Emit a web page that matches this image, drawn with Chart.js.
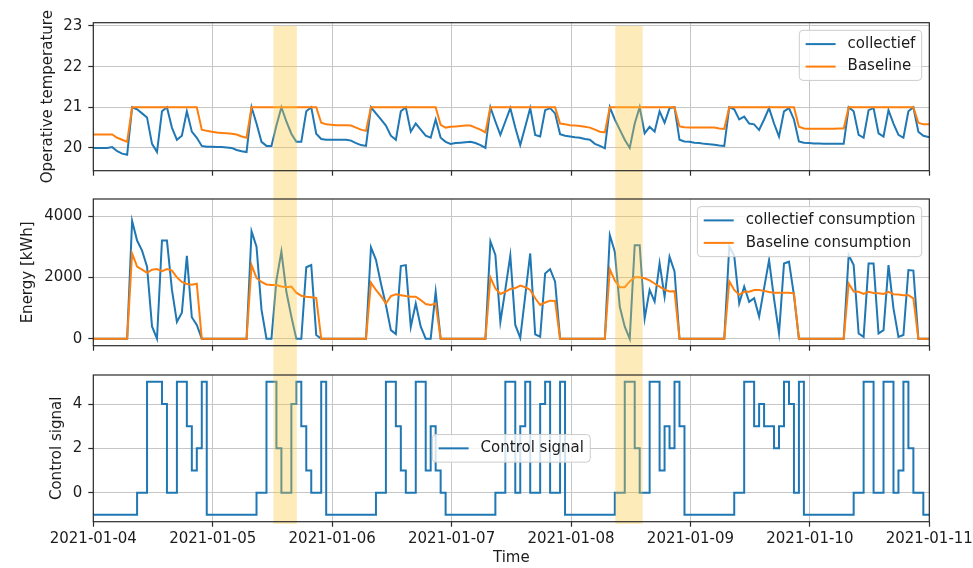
<!DOCTYPE html>
<html>
<head>
<meta charset="utf-8">
<title>Collectief vs baseline</title>
<script src="https://cdn.jsdelivr.net/npm/chart.js@4.4.1/dist/chart.umd.min.js"></script>
<style>
  html, body { margin: 0; padding: 0; background: #ffffff; }
  #figure { position: relative; width: 973px; height: 568px; overflow: hidden; }
  #figure canvas { position: absolute; left: 0; }
</style>
</head>
<body>
<div id="figure">
  <canvas id="tempChart" width="973" height="190" style="top:0px"></canvas>
  <canvas id="energyChart" width="973" height="175" style="top:190px"></canvas>
  <canvas id="signalChart" width="973" height="203" style="top:365px"></canvas>
</div>
<script>
// Hourly readings, stamped at hh:48. Index 0 is 2021-01-03 23:48,
// the last index is 2021-01-11 00:48. Hours count from 2021-01-04 00:00.
const firstSampleHour = -0.2;

// Operative temperature [°C]
const collectiefTemp = [20.0,
  20.0, 20.0, 20.0, 20.02, 19.92, 19.86, 19.83, 21.0, 20.95, 20.85, 20.75, 20.1, 19.9, 20.9, 21.0, 20.5, 20.2, 20.3, 20.9, 20.4, 20.25, 20.05, 20.03, 20.03,
  20.02, 20.02, 20.01, 20.0, 19.95, 19.92, 19.9, 21.0, 20.6, 20.15, 20.05, 20.05, 20.55, 21.0, 20.65, 20.35, 20.15, 20.15, 20.9, 21.0, 20.35, 20.22, 20.2, 20.2,
  20.2, 20.2, 20.2, 20.18, 20.12, 20.07, 20.05, 21.0, 20.85, 20.7, 20.55, 20.3, 20.2, 20.9, 21.0, 20.4, 20.6, 20.45, 20.3, 20.25, 20.7, 20.25, 20.15, 20.1,
  20.12, 20.13, 20.14, 20.15, 20.12, 20.07, 20.0, 21.0, 20.65, 20.32, 20.65, 20.98, 20.5, 20.07, 20.52, 20.98, 20.32, 20.28, 20.93, 20.98, 20.85, 20.34, 20.3, 20.28,
  20.26, 20.25, 20.22, 20.2, 20.1, 20.05, 19.99, 21.0, 20.7, 20.45, 20.2, 20.0, 20.6, 21.0, 20.36, 20.52, 20.4, 20.9, 20.62, 20.98, 21.0, 20.2, 20.16, 20.15,
  20.13, 20.12, 20.1, 20.09, 20.08, 20.06, 20.05, 21.0, 20.95, 20.7, 20.77, 20.6, 20.58, 20.44, 20.7, 20.98, 20.6, 20.28, 20.9, 20.98, 20.7, 20.16, 20.13, 20.12,
  20.11, 20.11, 20.1, 20.1, 20.1, 20.1, 20.1, 21.0, 20.9, 20.32, 20.25, 20.93, 20.98, 20.36, 20.28, 20.93, 20.6, 20.32, 20.25, 20.9, 21.0, 20.4, 20.3, 20.27, 20.26];

const baselineTemp = [20.33,
  20.33, 20.33, 20.33, 20.33, 20.25, 20.2, 20.15, 21, 21, 21, 21, 21, 21, 21, 21, 21, 21, 21, 21, 21, 21, 20.45, 20.42, 20.4,
  20.38, 20.37, 20.36, 20.35, 20.33, 20.28, 20.25, 21, 21, 21, 21, 21, 21, 21, 21, 21, 21, 21, 21, 21, 21, 20.62, 20.58, 20.57,
  20.56, 20.56, 20.56, 20.55, 20.5, 20.45, 20.42, 21, 21, 21, 21, 21, 21, 21, 21, 21, 21, 21, 21, 21, 21, 20.57, 20.5, 20.52,
  20.53, 20.54, 20.55, 20.55, 20.5, 20.45, 20.38, 21, 21, 21, 21, 21, 21, 21, 21, 21, 21, 21, 21, 21, 21, 20.6, 20.58, 20.56,
  20.55, 20.54, 20.52, 20.5, 20.45, 20.4, 20.38, 21, 21, 21, 21, 21, 21, 21, 21, 21, 21, 21, 21, 21, 21, 20.53, 20.51, 20.5,
  20.5, 20.5, 20.5, 20.5, 20.5, 20.48, 20.47, 21, 21, 21, 21, 21, 21, 21, 21, 21, 21, 21, 21, 21, 21, 20.52, 20.48, 20.47,
  20.47, 20.47, 20.47, 20.47, 20.47, 20.48, 20.48, 21, 21, 21, 21, 21, 21, 21, 21, 21, 21, 21, 21, 21, 21, 20.62, 20.58, 20.58, 20.57];

// Energy [kWh]
const collectiefEnergy = [0,
  0, 0, 0, 0, 0, 0, 0, 3840, 3200, 2870, 2350, 400, 0, 3200, 3200, 1600, 550, 850, 2700, 700, 450, 0, 0, 0,
  0, 0, 0, 0, 0, 0, 0, 3500, 3000, 950, 0, 0, 1900, 2840, 1530, 720, 0, 0, 2330, 2400, 120, 0, 0, 0,
  0, 0, 0, 0, 0, 0, 0, 2980, 2570, 1800, 1100, 280, 150, 2370, 2400, 390, 1150, 390, 0, 0, 1530, 0, 0, 0,
  0, 0, 0, 0, 0, 0, 0, 3170, 2730, 550, 1600, 2710, 450, 30, 1400, 2780, 140, 65, 2130, 2270, 1860, 0, 0, 0,
  0, 0, 0, 0, 0, 0, 0, 3380, 2840, 1040, 390, 0, 3050, 3050, 660, 1590, 1210, 2460, 1370, 2670, 2190, 0, 0, 0,
  0, 0, 0, 0, 0, 0, 0, 3000, 2700, 1150, 1700, 1200, 1320, 720, 1650, 2560, 1300, 170, 2450, 2510, 1420, 0, 0, 0,
  0, 0, 0, 0, 0, 0, 0, 2730, 2400, 170, 60, 2450, 2450, 170, 280, 2400, 990, 60, 120, 2240, 2220, 0, 0, 0, 0];

const baselineEnergy = [0,
  0, 0, 0, 0, 0, 0, 0, 2780, 2350, 2250, 2150, 2250, 2270, 2200, 2270, 2220, 2000, 1850, 1780, 1760, 1790, 0, 0, 0,
  0, 0, 0, 0, 0, 0, 0, 2400, 1980, 1850, 1770, 1750, 1750, 1700, 1680, 1700, 1500, 1400, 1370, 1350, 1330, 0, 0, 0,
  0, 0, 0, 0, 0, 0, 0, 1830, 1590, 1390, 1150, 1390, 1450, 1420, 1390, 1370, 1370, 1260, 1130, 1100, 1150, 0, 0, 0,
  0, 0, 0, 0, 0, 0, 0, 2000, 1640, 1460, 1530, 1620, 1650, 1730, 1680, 1590, 1320, 1100, 1180, 1240, 1230, 0, 0, 0,
  0, 0, 0, 0, 0, 0, 0, 2260, 1900, 1680, 1680, 1870, 2000, 2000, 1970, 1900, 1800, 1700, 1600, 1540, 1550, 0, 0, 0,
  0, 0, 0, 0, 0, 0, 0, 1870, 1590, 1430, 1530, 1530, 1590, 1590, 1560, 1520, 1500, 1500, 1500, 1500, 1480, 0, 0, 0,
  0, 0, 0, 0, 0, 0, 0, 1800, 1540, 1530, 1460, 1530, 1490, 1480, 1460, 1530, 1450, 1440, 1420, 1420, 1315, 0, 0, 0, 0];

// Control signal (value holds over the hour that ends at its stamp)
const controlSignal = [-1,
  -1, -1, -1, -1, -1, -1, -1, -1, -1, 0, 0, 5, 5, 5, 4, 0, 0, 5, 5, 3, 1, 2, 5, -1,
  -1, -1, -1, -1, -1, -1, -1, -1, -1, 0, 0, 5, 5, 2, 0, 0, 4, 5, 3, 1, 0, 0, 5, -1,
  -1, -1, -1, -1, -1, -1, -1, -1, -1, 0, 0, 5, 5, 3, 1, 0, 0, 5, 5, 1, 3, 1, 0, -1,
  -1, -1, -1, -1, -1, -1, -1, -1, -1, 0, 0, 5, 5, 0, 3, 5, 0, 0, 4, 5, 0, 0, 5, -1,
  -1, -1, -1, -1, -1, -1, -1, -1, -1, 0, 0, 5, 5, 2, 0, 0, 5, 5, 1, 3, 2, 5, 3, -1,
  -1, -1, -1, -1, -1, -1, -1, -1, -1, 0, 0, 5, 5, 3, 4, 3, 3, 2, 3, 5, 4, 0, 5, -1,
  -1, -1, -1, -1, -1, -1, -1, -1, -1, 0, 0, 5, 5, 0, 0, 5, 5, 0, 1, 5, 2, 0, 0, -1, -1];

// Control events (hours since 2021-01-04 00:00)
const eventStartHours = [36.2, 104.9];
const eventEndHours = [40.9, 110.4];

// Time axis
const dayTickHours = [0, 24, 48, 72, 96, 120, 144, 168];
const dayLabels = ['2021-01-04', '2021-01-05', '2021-01-06', '2021-01-07',
                   '2021-01-08', '2021-01-09', '2021-01-10', '2021-01-11'];

// Value-axis ticks
const tempTicks = [20, 21, 22, 23];
const energyTicks = [0, 2000, 4000];
const signalTicks = [0, 2, 4];

// ---------------------------------------------------------------------------
const sampleHours = controlSignal.map((_, i) => firstSampleHour + i);

const FONT = { family: 'DejaVu Sans', size: 15 };
const TEXT = '#1c1c1c';
const GRID = '#c6c6c6';
const SPINE = '#2a2a2a';
const BLUE = '#1f77b4';
const ORANGE = '#ff7f0e';
const BAND_FILL = 'rgba(250, 200, 60, 0.36)';

const FIG_W = 973;
const PLOT_LEFT = 93.3;
const PLOT_RIGHT = 929.3;
const BAND_TOP = 26;      // page px
const BAND_BOTTOM = 524;  // page px

function points(values) {
  return values.map((v, i) => ({ x: sampleHours[i], y: v }));
}

function lineSet(label, values, color, order, stepped) {
  return {
    label, data: points(values), borderColor: color, backgroundColor: color,
    borderWidth: 2, pointRadius: 0, tension: 0, fill: false, clip: 0,
    order, stepped: stepped || false
  };
}

function gridOpts() {
  return { color: GRID, lineWidth: 1, drawTicks: true, tickLength: 5, tickColor: SPINE, tickWidth: 1.2 };
}

function timeAxis(height, withLabels, title) {
  return {
    type: 'linear', min: 0, max: 168,
    afterBuildTicks: s => { s.ticks = dayTickHours.map(v => ({ value: v })); },
    afterFit: s => { s.height = height; s.paddingLeft = 0; s.paddingRight = 0; },
    grid: gridOpts(),
    border: { display: false },
    ticks: {
      display: withLabels, autoSkip: false, maxRotation: 0, minRotation: 0,
      padding: 3.5, font: FONT, color: TEXT,
      callback: (v, i) => dayLabels[i]
    },
    title: { display: !!title, text: title || '', font: FONT, color: TEXT, padding: { top: 0, bottom: 0.5 } }
  };
}

function valueAxis(min, max, ticks, title, titleCenterX) {
  return {
    type: 'linear', min, max,
    afterBuildTicks: s => { s.ticks = ticks.map(v => ({ value: v })); },
    afterFit: s => { s.width = PLOT_LEFT; s.paddingTop = 0; s.paddingBottom = 0; },
    grid: gridOpts(),
    border: { display: false },
    ticks: { font: FONT, color: TEXT, padding: 6, callback: v => String(v) },
    title: { display: true, text: title, font: FONT, color: TEXT,
             padding: { top: titleCenterX - FONT.size * 0.6, bottom: 0 } }
  };
}

// Shaded control-event windows, spanning all three panels
const eventBands = {
  id: 'eventBands',
  afterDatasetsDraw(chart, args, opts) {
    const { ctx } = chart;
    const xs = chart.scales.x;
    const top = Math.max(0, BAND_TOP - opts.pageTop);
    const bottom = Math.min(chart.height, BAND_BOTTOM - opts.pageTop);
    if (bottom <= top) return;
    ctx.save();
    ctx.fillStyle = BAND_FILL;
    eventStartHours.forEach((start, i) => {
      const x0 = xs.getPixelForValue(start);
      const x1 = xs.getPixelForValue(eventEndHours[i]);
      ctx.fillRect(x0, top, x1 - x0, bottom - top);
    });
    ctx.restore();
  }
};

// Box around each plot area
const axesFrame = {
  id: 'axesFrame',
  afterDatasetsDraw(chart) {
    const { ctx, chartArea: a } = chart;
    ctx.save();
    ctx.strokeStyle = SPINE;
    ctx.lineWidth = 1.2;
    ctx.strokeRect(a.left, a.top, a.right - a.left, a.bottom - a.top);
    ctx.restore();
  }
};

// Legend in a rounded, semi-transparent box inside the plot area
const framedLegend = {
  id: 'framedLegend',
  afterDraw(chart, args, opts) {
    const { ctx, chartArea: a } = chart;
    const fs = FONT.size;
    const items = chart.data.datasets.map(d => ({ label: d.label, color: d.borderColor, width: d.borderWidth }));
    ctx.save();
    ctx.font = fs + 'px "' + FONT.family + '"';
    const textW = Math.max(...items.map(it => ctx.measureText(it.label).width));
    const pad = 0.42 * fs, handle = 2 * fs, gap = 0.8 * fs, rowGap = 0.5 * fs;
    const w = 2 * pad + handle + gap + textW;
    const h = 2 * pad + items.length * fs + (items.length - 1) * rowGap;
    let x, y;
    if (opts.loc === 'center') {
      x = (a.left + a.right) / 2 - w / 2;
      y = (a.top + a.bottom) / 2 - h / 2;
    } else {
      x = a.right - opts.inset - w;
      y = a.top + opts.inset;
    }
    ctx.beginPath();
    ctx.roundRect(x, y, w, h, 0.25 * fs);
    ctx.fillStyle = 'rgba(255,255,255,0.8)';
    ctx.fill();
    ctx.strokeStyle = '#cccccc';
    ctx.lineWidth = 1;
    ctx.stroke();
    items.forEach((it, i) => {
      const cy = y + pad + fs / 2 + i * (fs + rowGap);
      ctx.beginPath();
      ctx.moveTo(x + pad, cy);
      ctx.lineTo(x + pad + handle, cy);
      ctx.strokeStyle = it.color;
      ctx.lineWidth = it.width;
      ctx.stroke();
      ctx.fillStyle = TEXT;
      ctx.textBaseline = 'middle';
      ctx.textAlign = 'left';
      ctx.fillText(it.label, x + pad + handle + gap, cy);
    });
    ctx.restore();
  }
};

function baseOptions(padTop, pageTop, legendOpts, scales) {
  return {
    responsive: false, animation: false, devicePixelRatio: 1, events: [],
    layout: { padding: { top: padTop, right: FIG_W - PLOT_RIGHT, bottom: 0, left: 0 } },
    scales,
    plugins: {
      legend: { display: false },
      tooltip: { enabled: false },
      eventBands: { pageTop },
      framedLegend: legendOpts
    }
  };
}

const plugins = [eventBands, axesFrame, framedLegend];

new Chart(document.getElementById('tempChart'), {
  type: 'line',
  data: { datasets: [
    lineSet('collectief', collectiefTemp, BLUE, 1),
    lineSet('Baseline', baselineTemp, ORANGE, 0)
  ] },
  options: baseOptions(22.7, 0, { loc: 'upper right', inset: 7.6 }, {
    x: timeAxis(190 - 170.7, false, ''),
    y: valueAxis(19.44, 23.08, tempTicks, 'Operative temperature', 48.5)
  }),
  plugins
});

new Chart(document.getElementById('energyChart'), {
  type: 'line',
  data: { datasets: [
    lineSet('collectief consumption', collectiefEnergy, BLUE, 1),
    lineSet('Baseline consumption', baselineEnergy, ORANGE, 0)
  ] },
  options: baseOptions(9, 190, { loc: 'upper right', inset: 7.6 }, {
    x: timeAxis(175 - 155.7, false, ''),
    y: valueAxis(-228, 4555, energyTicks, 'Energy [kWh]', 28.3)
  }),
  plugins
});

new Chart(document.getElementById('signalChart'), {
  type: 'line',
  data: { datasets: [
    lineSet('Control signal', controlSignal, BLUE, 0, 'after')
  ] },
  options: baseOptions(10, 365, { loc: 'center' }, {
    x: timeAxis(203 - 156.7, true, 'Time'),
    y: valueAxis(-1.31, 5.31, signalTicks, 'Control signal', 57.5)
  }),
  plugins
});
</script>
</body>
</html>
